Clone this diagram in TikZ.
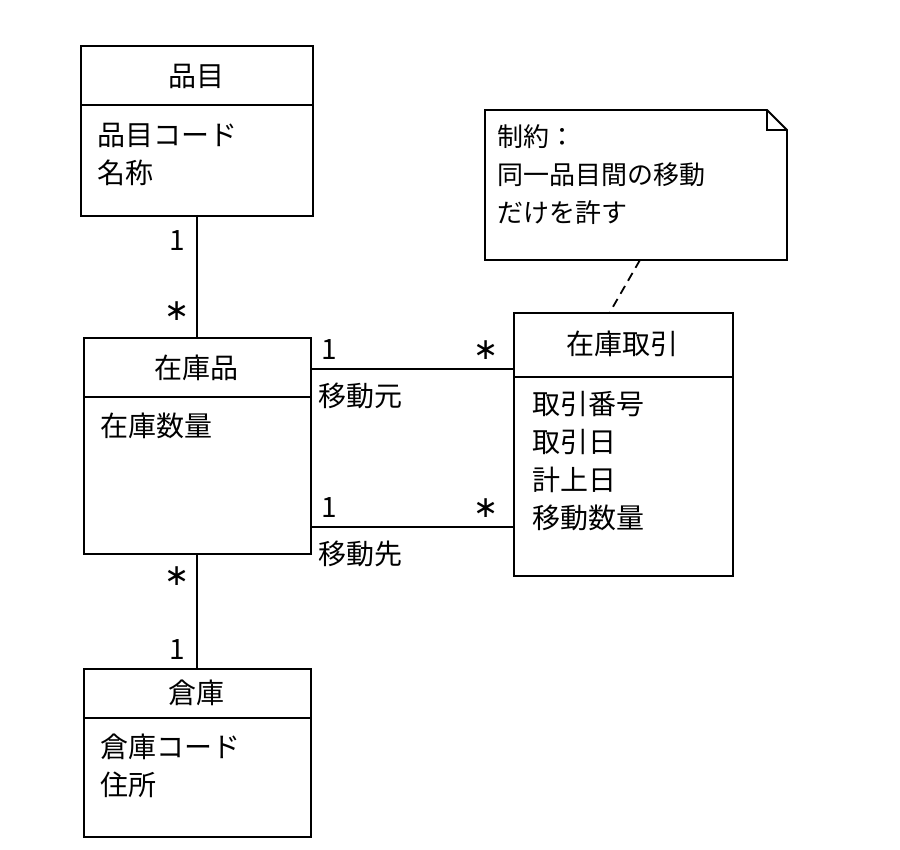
\documentclass[tikz,border=0pt]{standalone}
\usepackage{fontspec}
\setmainfont{Noto Sans CJK JP}
\newfontfamily\djv{DejaVu Sans}
\begin{document}
\begin{tikzpicture}[x=1pt,y=-1pt,line width=1.8pt,
 t/.style={font=\fontsize{28}{38}\selectfont,anchor=west,align=left,inner sep=0pt},
 m/.style={font=\fontsize{28}{30}\selectfont,inner sep=0pt},
 s/.style={font=\djv\fontsize{30}{30}\selectfont,inner sep=0pt}]
\useasboundingbox (0,0) rectangle (900,850);
% 品目
\node[draw,minimum width=232,minimum height=170,anchor=north west,inner sep=0] (hin) at (80,45) {};
\draw (80,105) -- (312,105);
\node[t,anchor=center] (hinN) at (196,76) {品目};
\node[t,anchor=north west] (hinA) at (97,122) {品目コード\\名称};
% 在庫品
\node[draw,minimum width=227,minimum height=216,anchor=north west,inner sep=0] (zai) at (83,337) {};
\draw (83,397) -- (310,397);
\node[t,anchor=center] (zaiN) at (196,368) {在庫品};
\node[t,anchor=north west] (zaiA) at (100,412) {在庫数量};
% 倉庫
\node[draw,minimum width=227,minimum height=168,anchor=north west,inner sep=0] (sou) at (83,668) {};
\draw (83,718) -- (310,718);
\node[t,anchor=center] (souN) at (196,693) {倉庫};
\node[t,anchor=north west] (souA) at (100,733) {倉庫コード\\住所};
% 在庫取引
\node[draw,minimum width=219,minimum height=263,anchor=north west,inner sep=0] (tor) at (513,312) {};
\draw (513,377) -- (732,377);
\node[t,anchor=center] (torN) at (622,344) {在庫取引};
\node[t,anchor=north west] (torA) at (532,390) {取引番号\\取引日\\計上日\\移動数量};
% note
\draw (485,110) -- (767,110) -- (787,130) -- (787,260) -- (485,260) -- cycle;
\draw (767,110) -- (767,130) -- (787,130);
\node[t,anchor=north west,font=\fontsize{26}{38}\selectfont] (note) at (497,124) {制約：\\同一品目間の移動\\だけを許す};
\coordinate (nb) at (640,260);
\coordinate (tt) at (610,312);
\draw[dashed,dash pattern=on 9pt off 6pt] (nb) -- (tt);
% connectors
\draw (197,215) -- (197,337);
\draw (197,553) -- (197,668);
\draw (310,369) -- (513,369);
\draw (310,527) -- (513,527);
\node[m] (a1) at (177,241) {1};
\node[s] (a2) at (177,311) {∗};
\node[s] (b1) at (177,576) {∗};
\node[m] (b2) at (177,650) {1};
\node[m] (c1) at (329,350) {1};
\node[s] (c2) at (486,350) {∗};
\node[t] (c3) at (318,396) {移動元};
\node[m] (d1) at (329,508) {1};
\node[s] (d2) at (486,508) {∗};
\node[t] (d3) at (318,554) {移動先};
\end{tikzpicture}
\end{document}
